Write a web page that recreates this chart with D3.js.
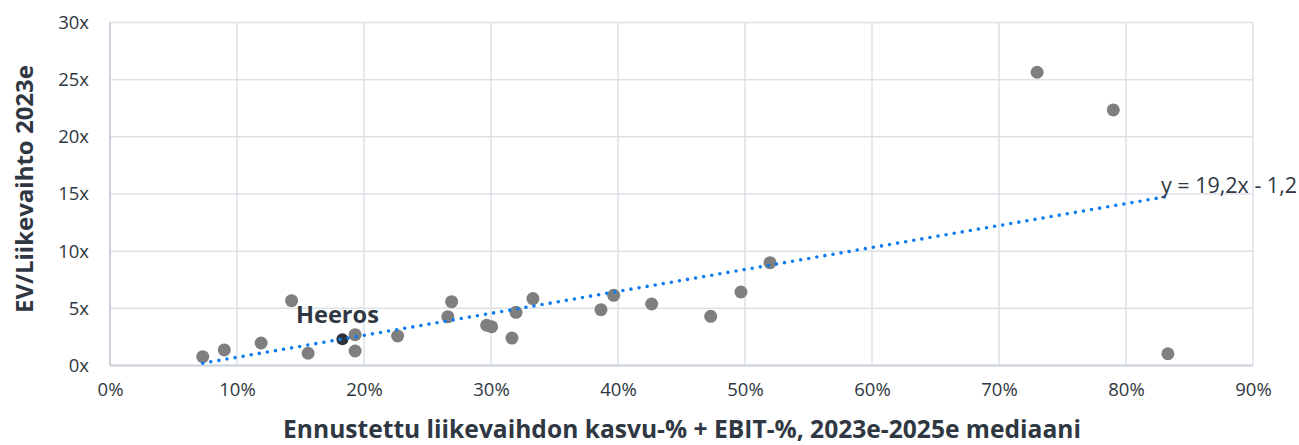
<!DOCTYPE html>
<html><head><meta charset="utf-8">
<script src="https://cdn.jsdelivr.net/npm/d3@7"></script>
<style>body{margin:0;background:#fff}svg{display:block}text{font-family:"Open Sans",sans-serif}</style>
</head><body>
<svg id="c" width="1299" height="445"></svg>
<script>
const growthEbit = [0.073,0.090,0.119,0.143,0.156,0.193,0.193,0.2265,0.266,0.269,0.2966,0.3005,0.3165,0.3197,0.333,0.3866,0.3966,0.4265,0.473,0.4968,0.5197,0.730,0.790,0.833];
const evSales    = [0.77,1.36,1.97,5.67,1.07,2.70,1.27,2.58,4.27,5.58,3.52,3.40,2.40,4.65,5.85,4.88,6.14,5.38,4.30,6.43,8.99,25.65,22.35,1.03];
const heerosX = 0.183, heerosY = 2.29, heerosLabel = "Heeros";
const trendSlope = 19.2, trendIntercept = -1.2, trendLabel = "y = 19,2x - 1,2";
const xTicks = [0,0.1,0.2,0.3,0.4,0.5,0.6,0.7,0.8,0.9];
const yTicks = [0,5,10,15,20,25,30];
const xTitle = "Ennustettu liikevaihdon kasvu-% + EBIT-%, 2023e-2025e mediaani";
const yTitle = "EV/Liikevaihto 2023e";

const svg = d3.select("#c");
const x = d3.scaleLinear().domain([0,0.9]).range([110,1253]);
const y = d3.scaleLinear().domain([0,30]).range([365.5,22.5]);
const grid = "#dde1e6", txt = "#2f3742";

function fit(sel, w){ const n = sel.node(); const l = n.getComputedTextLength(); const fs = parseFloat(sel.attr("font-size")); sel.attr("font-size", fs*w/l); }

svg.append("g").selectAll("line").data(xTicks).join("line")
  .attr("x1",d=>x(d)).attr("x2",d=>x(d)).attr("y1",y(30)).attr("y2",y(0))
  .attr("stroke",grid).attr("stroke-width",1.5);
svg.append("g").selectAll("line").data(yTicks).join("line")
  .attr("x1",x(0)).attr("x2",x(0.9)).attr("y1",d=>y(d)).attr("y2",d=>y(d))
  .attr("stroke",grid).attr("stroke-width",1.5);
svg.append("line").attr("x1",x(0)).attr("x2",x(0.9)).attr("y1",y(0)).attr("y2",y(0)).attr("stroke","#ccd2d9").attr("stroke-width",2);
svg.append("line").attr("x1",x(0)).attr("x2",x(0)).attr("y1",y(30)).attr("y2",y(0)).attr("stroke","#ccd2d9").attr("stroke-width",2);

const xa = svg.append("g").attr("transform",`translate(0,${y(0)})`)
  .call(d3.axisBottom(x).tickValues(xTicks).tickFormat(d=>Math.round(d*100)+"%").tickSize(0).tickPadding(17));
const ya = svg.append("g").attr("transform",`translate(${x(0)},0)`)
  .call(d3.axisLeft(y).tickValues(yTicks).tickFormat(d=>d+"x").tickSize(0).tickPadding(21));
[xa,ya].forEach(a=>{a.select(".domain").remove();
  a.selectAll("text").attr("font-size",18.5).attr("fill",txt).attr("font-family","'Open Sans',sans-serif").attr("font-weight",400);});

svg.append("g").selectAll("circle").data(growthEbit).join("circle")
  .attr("cx",d=>x(d)).attr("cy",(d,i)=>y(evSales[i])).attr("r",6.5).attr("fill","#7f7f7f");

svg.append("circle").attr("cx",x(heerosX)).attr("cy",y(heerosY)).attr("r",6).attr("fill","#2b333d");

const xmin = d3.min(growthEbit), xmax = d3.max(growthEbit);
svg.append("line").attr("x1",x(xmin)).attr("y1",y(trendSlope*xmin+trendIntercept))
  .attr("x2",x(xmax)).attr("y2",y(trendSlope*xmax+trendIntercept))
  .attr("stroke","#0f7bf0").attr("stroke-width",3.6).attr("stroke-linecap","round").attr("stroke-dasharray","0 8.2");

const tl = svg.append("text").attr("x",1161).attr("y",193)
  .attr("font-size",19).attr("fill",txt).attr("font-weight",400).text(trendLabel);
fit(tl,136);

const hl = svg.append("text").attr("x",x(heerosX)-5).attr("y",y(heerosY)-16).attr("text-anchor","middle")
  .attr("font-size",21).attr("font-weight",700).attr("fill",txt).text(heerosLabel);
fit(hl,83);

const xt = svg.append("text").attr("x",682).attr("y",438).attr("text-anchor","middle")
  .attr("font-size",20).attr("font-weight",700).attr("fill",txt).text(xTitle);
fit(xt,798);
const yt = svg.append("text").attr("transform","translate(33,189) rotate(-90)").attr("text-anchor","middle")
  .attr("font-size",20).attr("font-weight",700).attr("fill",txt).text(yTitle);
fit(yt,248);
</script>
</body></html>
